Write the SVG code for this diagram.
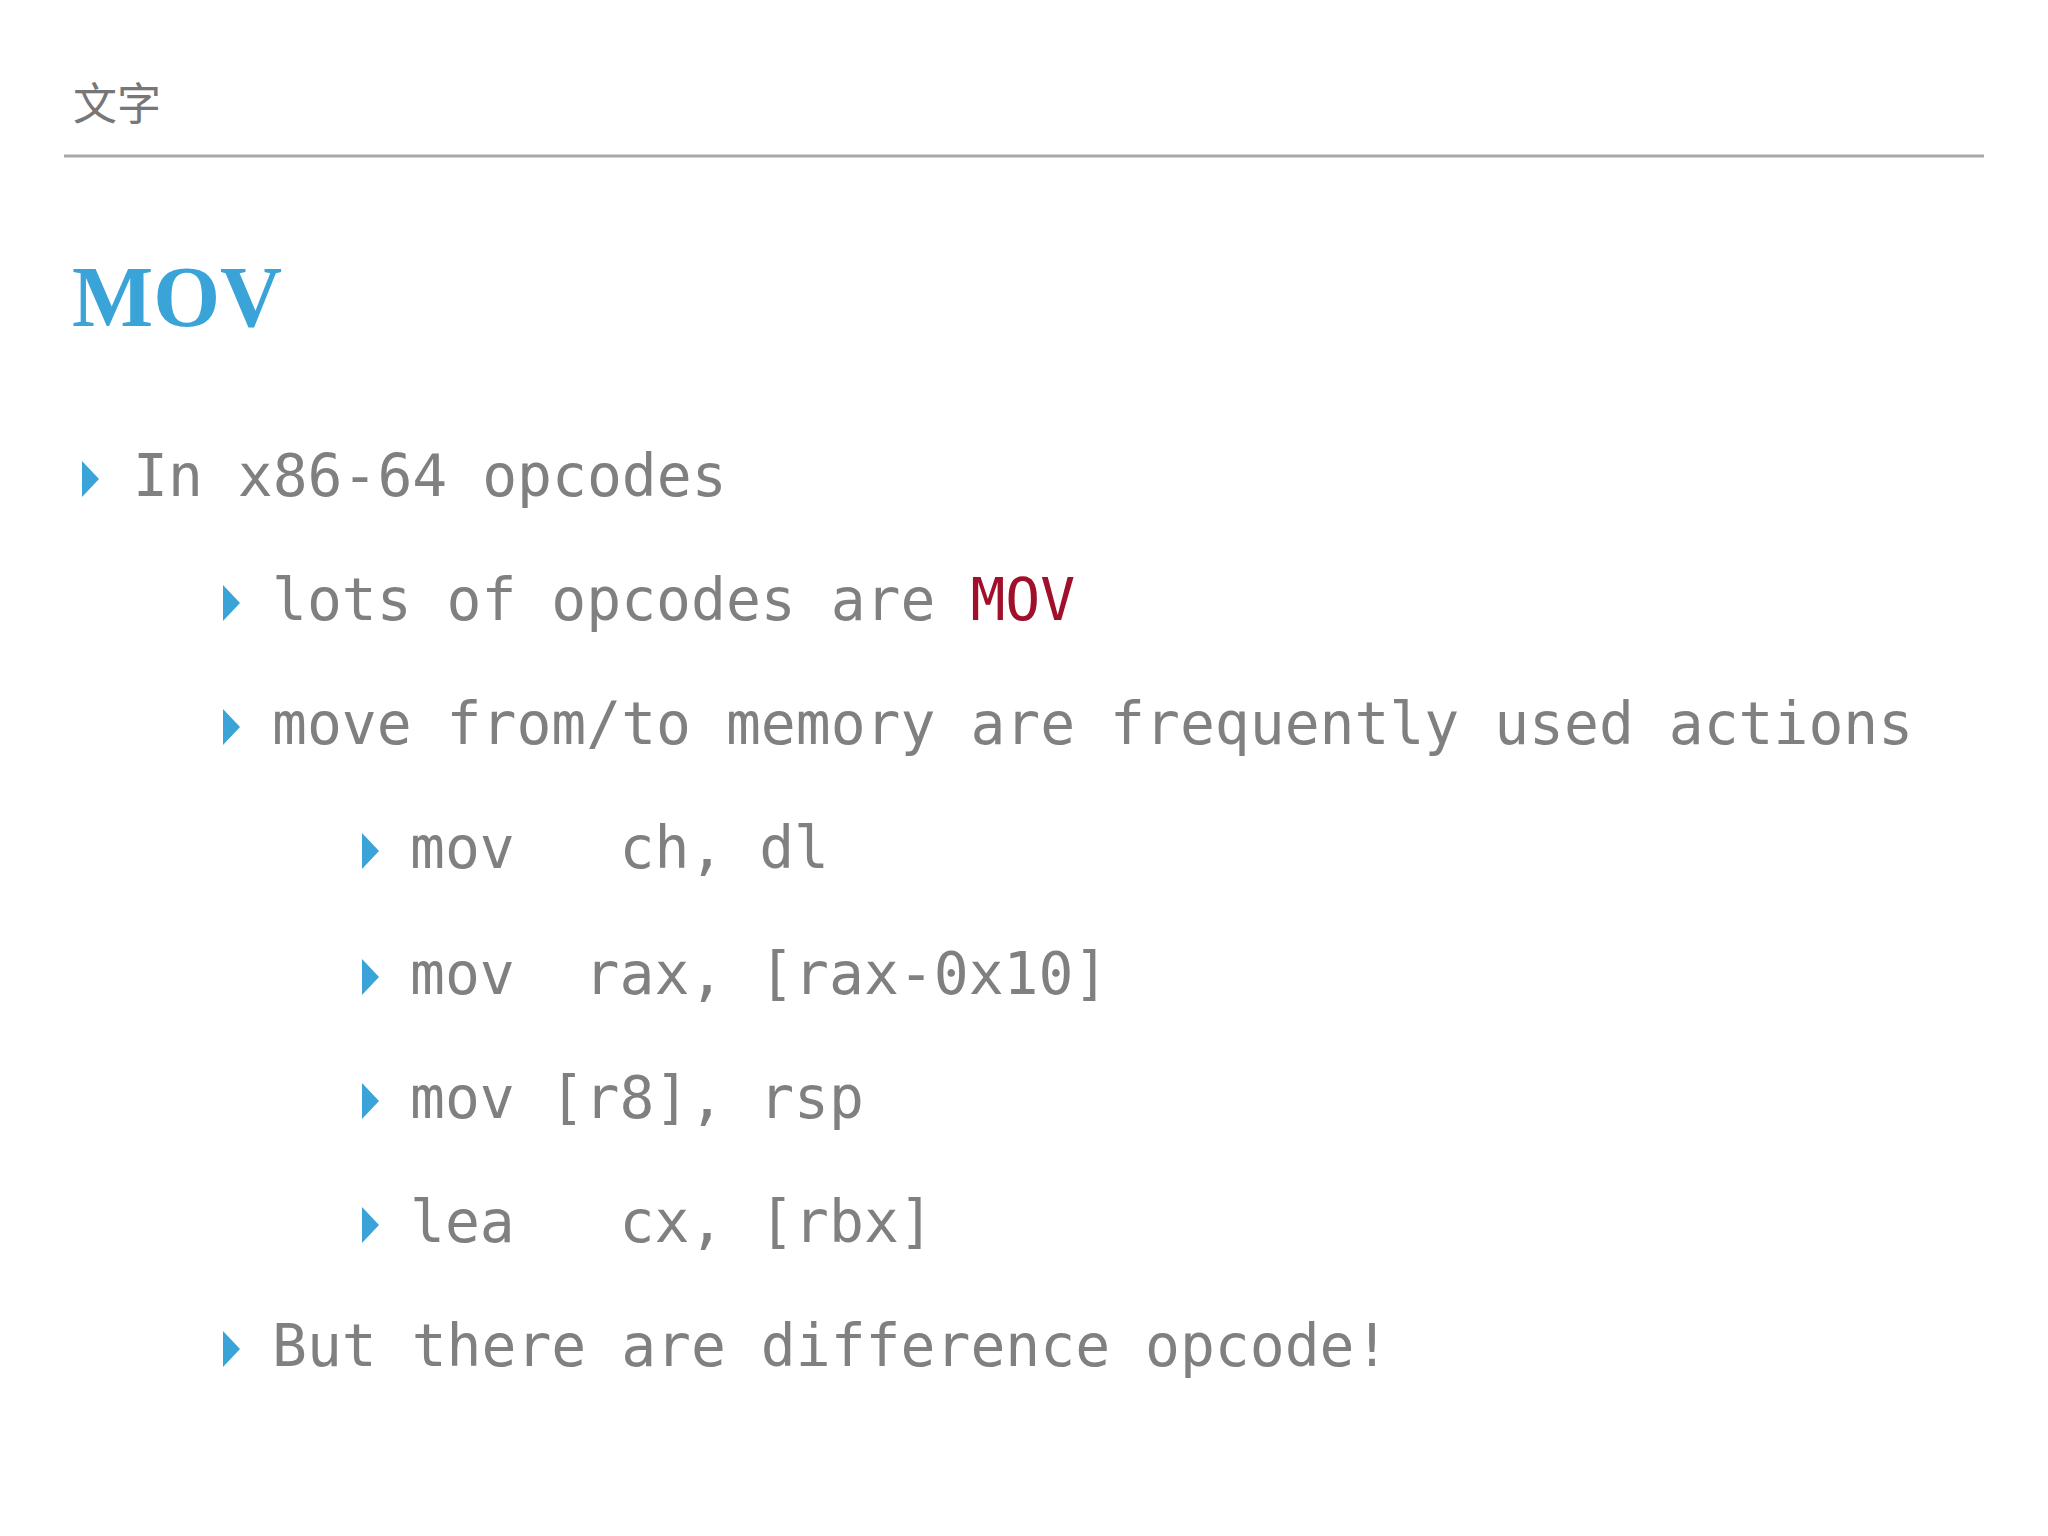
<svg xmlns="http://www.w3.org/2000/svg" width="2048" height="1536" viewBox="0 0 2048 1536" xml:space="preserve">
<style>
.t{font-family:"DejaVu Sans Mono","Liberation Mono",monospace;font-size:58px;fill:#808080;white-space:pre}
.b{fill:#3aa3d8}
</style>
<defs><polygon id="tri" class="b" points="0,-18 17,0 0,18"/></defs>
<rect width="2048" height="1536" fill="#ffffff"/>
<text x="73" y="120" font-family="'Noto Sans CJK SC',serif" font-size="44" fill="#777">文字</text>
<line x1="64" y1="156" x2="1984" y2="156" stroke="#a8a8a8" stroke-width="3"/>
<text x="72" y="326" font-family="'Liberation Serif',serif" font-weight="bold" font-size="86" fill="#3aa3d8">MOV</text>
<g id="l1"><use href="#tri" x="82" y="479"/><text class="t" x="133" y="496">In x86-64 opcodes</text></g>
<g id="l2"><use href="#tri" x="223" y="603"/><text class="t" x="272" y="620">lots of opcodes are <tspan fill="#a0102a">MOV</tspan></text></g>
<g id="l3"><use href="#tri" x="223" y="727"/><text class="t" x="272" y="744">move from/to memory are frequently used actions</text></g>
<g id="l4"><use href="#tri" x="362" y="851"/><text class="t" x="410" y="868">mov   ch, dl</text></g>
<g id="l5"><use href="#tri" x="362" y="977"/><text class="t" x="410" y="994">mov  rax, [rax-0x10]</text></g>
<g id="l6"><use href="#tri" x="362" y="1101"/><text class="t" x="410" y="1118">mov [r8], rsp</text></g>
<g id="l7"><use href="#tri" x="362" y="1225"/><text class="t" x="410" y="1242">lea   cx, [rbx]</text></g>
<g id="l8"><use href="#tri" x="223" y="1349"/><text class="t" x="272" y="1366">But there are difference opcode!</text></g>
<g id="connectors"/>
</svg>
